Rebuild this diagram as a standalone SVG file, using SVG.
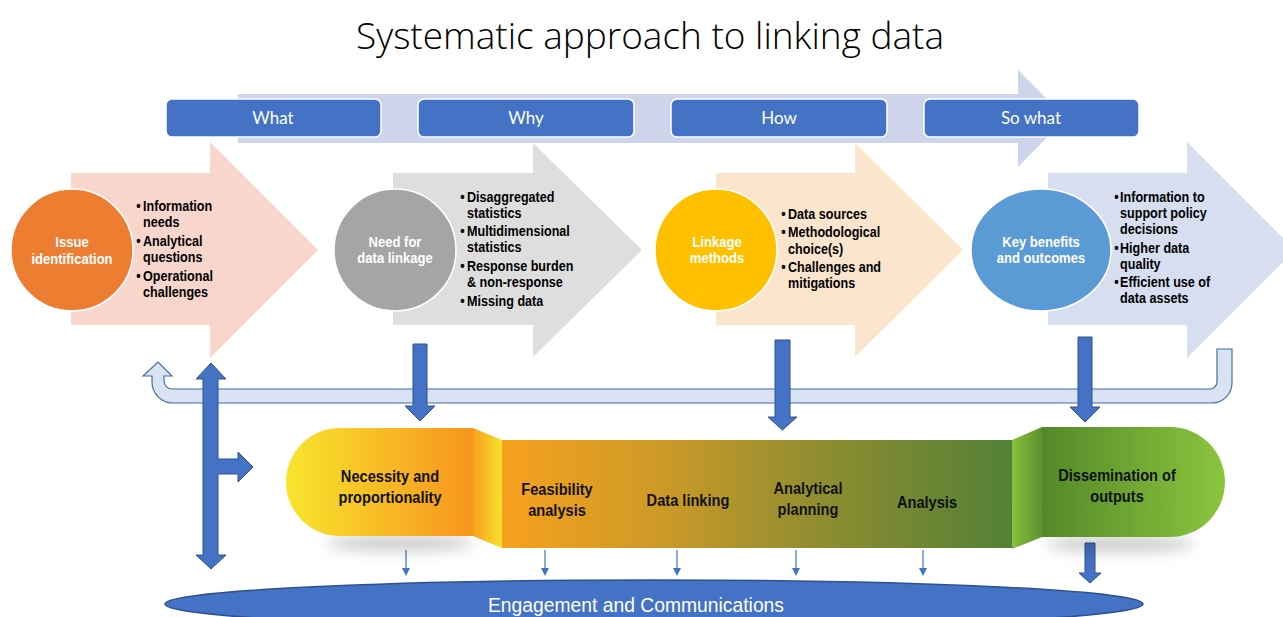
<svg xmlns="http://www.w3.org/2000/svg" width="1283" height="617" viewBox="0 0 1283 617">
  <defs>
    <style>
      .title { font-family: "Open Sans", "Liberation Sans", sans-serif; font-weight: 300; font-size: 36px; fill: #000; }
      .tab { fill: #4472C4; stroke: #FFFFFF; stroke-width: 1.5; }
      .tabtxt { font-family: Lato, "Open Sans", sans-serif; font-size: 17px; fill: #FFFFFF; text-anchor: middle; }
      .circ { stroke: #FFFFFF; stroke-width: 1.5; }
      .ctxt { font-family: "Liberation Sans", Arial, sans-serif; font-weight: bold; font-size: 14.5px; fill: #FFFFFF; text-anchor: middle; }
      .btxt { font-family: "Liberation Sans", Arial, sans-serif; font-weight: bold; font-size: 15px; fill: #000; }
      .ptxt { font-family: "Liberation Sans", Arial, sans-serif; font-weight: bold; font-size: 17px; fill: #111; text-anchor: middle; }
      .blk { fill: #4472C4; stroke: #2F528F; stroke-width: 1; }
      .thin { stroke: #4472C4; stroke-width: 1.2; fill: none; }
      .thinhead { fill: #4472C4; }
      .etxt { font-family: "Liberation Sans", Arial, sans-serif; font-size: 20px; fill: #FFFFFF; text-anchor: middle; }
    </style>
    <linearGradient id="gLeft" x1="0" y1="0" x2="1" y2="0">
      <stop offset="0" stop-color="#F8E52E"/>
      <stop offset="1" stop-color="#F7941D"/>
    </linearGradient>
    <linearGradient id="gSlant1" x1="0" y1="0" x2="1" y2="0">
      <stop offset="0" stop-color="#F7A01C"/>
      <stop offset="1" stop-color="#F6E22D"/>
    </linearGradient>
    <linearGradient id="gMid" x1="0" y1="0" x2="1" y2="0">
      <stop offset="0" stop-color="#F7A11D"/>
      <stop offset="0.3" stop-color="#CE9A27"/>
      <stop offset="0.62" stop-color="#8F8D30"/>
      <stop offset="1" stop-color="#528136"/>
    </linearGradient>
    <linearGradient id="gSlant2" x1="0" y1="0" x2="1" y2="0">
      <stop offset="0" stop-color="#88C03E"/>
      <stop offset="1" stop-color="#5C922E"/>
    </linearGradient>
    <linearGradient id="gRight" x1="0" y1="0" x2="1" y2="0">
      <stop offset="0" stop-color="#538827"/>
      <stop offset="1" stop-color="#8CC63F"/>
    </linearGradient>
    <filter id="soft" x="-30%" y="-100%" width="160%" height="300%">
      <feGaussianBlur stdDeviation="7"/>
    </filter>
  </defs>

  <rect width="1283" height="617" fill="#FFFFFF"/>

  <text class="title" x="356" y="49" textLength="588" lengthAdjust="spacingAndGlyphs">Systematic approach to linking data</text>

  <!-- long timeline arrow behind the stage tabs -->
  <g id="timeline">
    <path d="M238,94 H1018 V70 L1066,118 L1018,167 V143 H238 Z" fill="#CED5EA"/>
  </g>

  <g id="tab-what">
    <rect class="tab" x="166" y="99" width="215" height="38" rx="6"/>
    <text class="tabtxt" x="273" y="124">What</text>
  </g>
  <g id="tab-why">
    <rect class="tab" x="418" y="99" width="216" height="38" rx="6"/>
    <text class="tabtxt" x="526" y="124">Why</text>
  </g>
  <g id="tab-how">
    <rect class="tab" x="671" y="99" width="216" height="38" rx="6"/>
    <text class="tabtxt" x="779" y="124">How</text>
  </g>
  <g id="tab-sowhat">
    <rect class="tab" x="924" y="99" width="215" height="38" rx="6"/>
    <text class="tabtxt" x="1031" y="124">So what</text>
  </g>

  <!-- stage 1 -->
  <g id="issue-identification">
    <path d="M71,173 H210 V142 L318,250 L210,358 V325 H71 Z" fill="#F8D6CC"/>
    <circle class="circ" cx="72" cy="250" r="61" fill="#ED7D31"/>
    <g transform="translate(72,0) scale(0.9,1)">
      <text class="ctxt" x="0" y="247">Issue</text>
      <text class="ctxt" x="0" y="264">identification</text>
    </g>
    <g transform="translate(143,0) scale(0.84,1)">
      <text class="btxt" x="-8" y="211">•</text><text class="btxt" x="0" y="211">Information</text>
      <text class="btxt" x="0" y="227">needs</text>
      <text class="btxt" x="-8" y="246">•</text><text class="btxt" x="0" y="246">Analytical</text>
      <text class="btxt" x="0" y="262">questions</text>
      <text class="btxt" x="-8" y="281">•</text><text class="btxt" x="0" y="281">Operational</text>
      <text class="btxt" x="0" y="297">challenges</text>
    </g>
  </g>

  <!-- stage 2 -->
  <g id="need-for-linkage">
    <path d="M393,173 H533 V143 L642,250 L533,357 V325 H393 Z" fill="#DEDEDE"/>
    <circle class="circ" cx="395" cy="250" r="61" fill="#A5A5A5"/>
    <g transform="translate(395,0) scale(0.9,1)">
      <text class="ctxt" x="0" y="247">Need for</text>
      <text class="ctxt" x="0" y="263">data linkage</text>
    </g>
    <g transform="translate(467,0) scale(0.84,1)">
      <text class="btxt" x="-8" y="202">•</text><text class="btxt" x="0" y="202">Disaggregated</text>
      <text class="btxt" x="0" y="218">statistics</text>
      <text class="btxt" x="-8" y="236">•</text><text class="btxt" x="0" y="236">Multidimensional</text>
      <text class="btxt" x="0" y="252">statistics</text>
      <text class="btxt" x="-8" y="271">•</text><text class="btxt" x="0" y="271">Response burden</text>
      <text class="btxt" x="0" y="287">&amp; non-response</text>
      <text class="btxt" x="-8" y="306">•</text><text class="btxt" x="0" y="306">Missing data</text>
    </g>
  </g>

  <!-- stage 3 -->
  <g id="linkage-methods">
    <path d="M716,173 H855 V143 L963,250 L855,357 V325 H716 Z" fill="#FCE5CD"/>
    <circle class="circ" cx="716" cy="250" r="61" fill="#FFC000"/>
    <g transform="translate(717,0) scale(0.9,1)">
      <text class="ctxt" x="0" y="247">Linkage</text>
      <text class="ctxt" x="0" y="263">methods</text>
    </g>
    <g transform="translate(788,0) scale(0.84,1)">
      <text class="btxt" x="-8" y="219">•</text><text class="btxt" x="0" y="219">Data sources</text>
      <text class="btxt" x="-8" y="237">•</text><text class="btxt" x="0" y="237">Methodological</text>
      <text class="btxt" x="0" y="254">choice(s)</text>
      <text class="btxt" x="-8" y="272">•</text><text class="btxt" x="0" y="272">Challenges and</text>
      <text class="btxt" x="0" y="288">mitigations</text>
    </g>
  </g>

  <!-- stage 4 -->
  <g id="key-benefits">
    <path d="M1048,173 H1187 V142 L1295,250 L1187,358 V325 H1048 Z" fill="#D6DEF0"/>
    <ellipse class="circ" cx="1041" cy="250" rx="70" ry="61" fill="#5B9BD5"/>
    <g transform="translate(1041,0) scale(0.9,1)">
      <text class="ctxt" x="0" y="247">Key benefits</text>
      <text class="ctxt" x="0" y="263">and outcomes</text>
    </g>
    <g transform="translate(1120,0) scale(0.84,1)">
      <text class="btxt" x="-7" y="202">•</text><text class="btxt" x="0" y="202">Information to</text>
      <text class="btxt" x="0" y="218">support policy</text>
      <text class="btxt" x="0" y="234">decisions</text>
      <text class="btxt" x="-7" y="253">•</text><text class="btxt" x="0" y="253">Higher data</text>
      <text class="btxt" x="0" y="269">quality</text>
      <text class="btxt" x="-7" y="287">•</text><text class="btxt" x="0" y="287">Efficient use of</text>
      <text class="btxt" x="0" y="303">data assets</text>
    </g>
  </g>

  <g id="connectors">
    <!-- feedback loop back to the start -->
    <path d="M1232,349 V383 A20,20 0 0 1 1212,403 H173 A21,21 0 0 1 152,382 V376 H143 L158,362 L172,376 H164 V381 A8,8 0 0 0 172,389 H1210 A7,7 0 0 0 1217,382 V349 Z" fill="#DAE3F3" stroke="#41719C" stroke-width="1.2"/>
    <!-- stage outputs feeding the process bar -->
    <path class="blk" d="M413,344 H427 V406 H435 L420,421 L405,406 H413 Z"/>
    <path class="blk" d="M775,340 H790 V417 H797 L782.5,430 L768,417 H775 Z"/>
    <path class="blk" d="M1078,337 H1092 V407 H1100 L1085,422 L1070,407 H1078 Z"/>
    <!-- two-way arrow with branch into the process -->
    <path class="blk" d="M211,363 L226,379 H218 V459 H238 V452 L253,467 L238,482 V474 H218 V555 H226 L211,569 L196,555 H203 V379 H196 Z"/>
    <!-- thin drops to engagement -->
    <line class="thin" x1="406" y1="550" x2="406" y2="569"/><path class="thinhead" d="M402,568 H410 L406,576 Z"/>
    <line class="thin" x1="545" y1="550" x2="545" y2="569"/><path class="thinhead" d="M541,568 H549 L545,576 Z"/>
    <line class="thin" x1="677" y1="550" x2="677" y2="569"/><path class="thinhead" d="M673,568 H681 L677,576 Z"/>
    <line class="thin" x1="796" y1="550" x2="796" y2="569"/><path class="thinhead" d="M792,568 H800 L796,576 Z"/>
    <line class="thin" x1="923" y1="550" x2="923" y2="569"/><path class="thinhead" d="M919,568 H927 L923,576 Z"/>
    <path class="blk" d="M1085,543 H1095 V573 H1101 L1090,583 L1079,573 H1085 Z"/>
  </g>

  <!-- soft shadows beneath the rounded ends -->
  <g id="shadows" filter="url(#soft)">
    <ellipse cx="400" cy="543" rx="75" ry="8" fill="#000" opacity="0.2"/>
    <ellipse cx="1120" cy="544" rx="75" ry="8" fill="#000" opacity="0.2"/>
  </g>

  <g id="necessity">
    <path d="M340,428 H473 V536 H340 A54,54 0 0 1 340,428 Z" fill="url(#gLeft)"/>
    <path d="M473,428 L502,440 V548 L473,536 Z" fill="url(#gSlant1)"/>
    <g transform="translate(390,0) scale(0.86,1)">
      <text class="ptxt" x="0" y="482">Necessity and</text>
      <text class="ptxt" x="0" y="503">proportionality</text>
    </g>
  </g>

  <g id="process-steps">
    <rect x="502" y="440" width="510" height="108" fill="url(#gMid)"/>
    <g transform="translate(557,0) scale(0.86,1)">
      <text class="ptxt" x="0" y="495">Feasibility</text>
      <text class="ptxt" x="0" y="516">analysis</text>
    </g>
    <g transform="translate(688,0) scale(0.86,1)">
      <text class="ptxt" x="0" y="506">Data linking</text>
    </g>
    <g transform="translate(808,0) scale(0.86,1)">
      <text class="ptxt" x="0" y="494">Analytical</text>
      <text class="ptxt" x="0" y="515">planning</text>
    </g>
    <g transform="translate(927,0) scale(0.86,1)">
      <text class="ptxt" x="0" y="508">Analysis</text>
    </g>
  </g>

  <g id="dissemination">
    <path d="M1012,440 L1042,427 V537 L1012,549 Z" fill="url(#gSlant2)"/>
    <path d="M1042,427 H1170 A55,55 0 0 1 1170,537 H1042 Z" fill="url(#gRight)"/>
    <g transform="translate(1117,0) scale(0.86,1)">
      <text class="ptxt" x="0" y="481">Dissemination of</text>
      <text class="ptxt" x="0" y="502">outputs</text>
    </g>
  </g>

  <g id="engagement">
    <ellipse cx="654" cy="604" rx="489" ry="24" fill="#4472C4" stroke="#2F528F" stroke-width="1.5"/>
    <text class="etxt" x="636" y="612" textLength="296" lengthAdjust="spacingAndGlyphs">Engagement and Communications</text>
  </g>
</svg>
